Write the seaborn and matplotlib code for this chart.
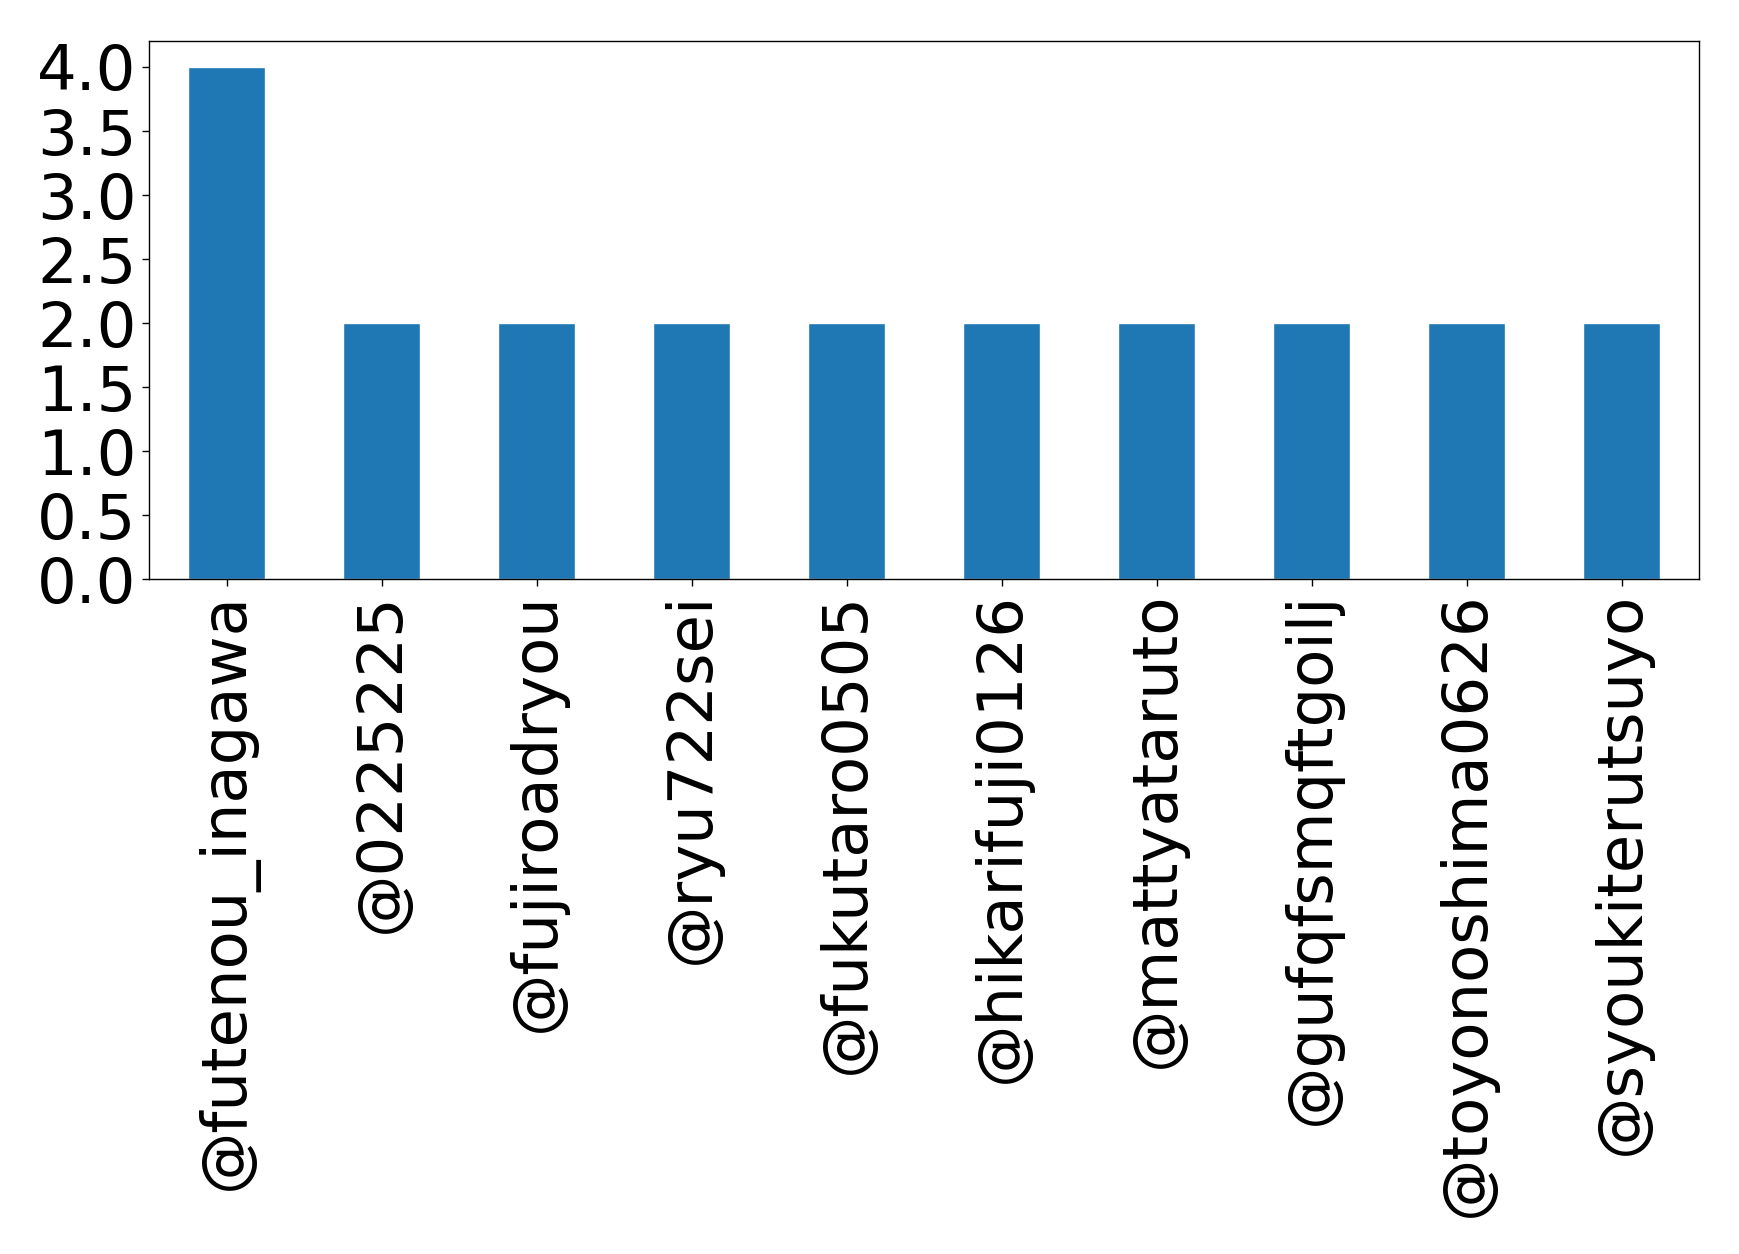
import matplotlib
matplotlib.use("Agg")
import matplotlib.pyplot as plt
import seaborn as sns
import pandas as pd
import numpy as np

users = ['@futenou_inagawa', '@0225225', '@fujiroadryou', '@ryu722sei',
         '@fukutaro0505', '@hikarifuji0126', '@mattyataruto', '@gufqfsmqftgoilj',
         '@toyonoshima0626', '@syoukiterutsuyo']
counts = [4, 2, 2, 2, 2, 2, 2, 2, 2, 2]

df = pd.DataFrame({'user': users, 'count': counts})

sns.set_style('white')
plt.rcParams['font.family'] = ['DejaVu Sans']

fig = plt.figure(figsize=(17.39, 12.54), dpi=100)
ax = fig.add_axes([0.0857, 0.538, 0.8913, 0.429])
sns.barplot(data=df, x='user', y='count', color='#1f77b4', saturation=1,
            width=0.5, ax=ax)
ax.set_xlim(-0.5, 9.5)
ax.set_ylim(0, 4.2)
ax.set_yticks(np.arange(0, 4.01, 0.5))
ax.set_yticklabels([f'{v:.1f}' for v in np.arange(0, 4.01, 0.5)])
ax.set_xlabel('')
ax.set_ylabel('')
ax.tick_params(axis='both', labelsize=45, length=5, width=1, bottom=True, left=True,
               colors='black', pad=4)
plt.setp(ax.get_xticklabels(), rotation=90)
for s in ax.spines.values():
    s.set_visible(True)
    s.set_color('black')
    s.set_linewidth(1)

fig.savefig('out.png', dpi=100)
